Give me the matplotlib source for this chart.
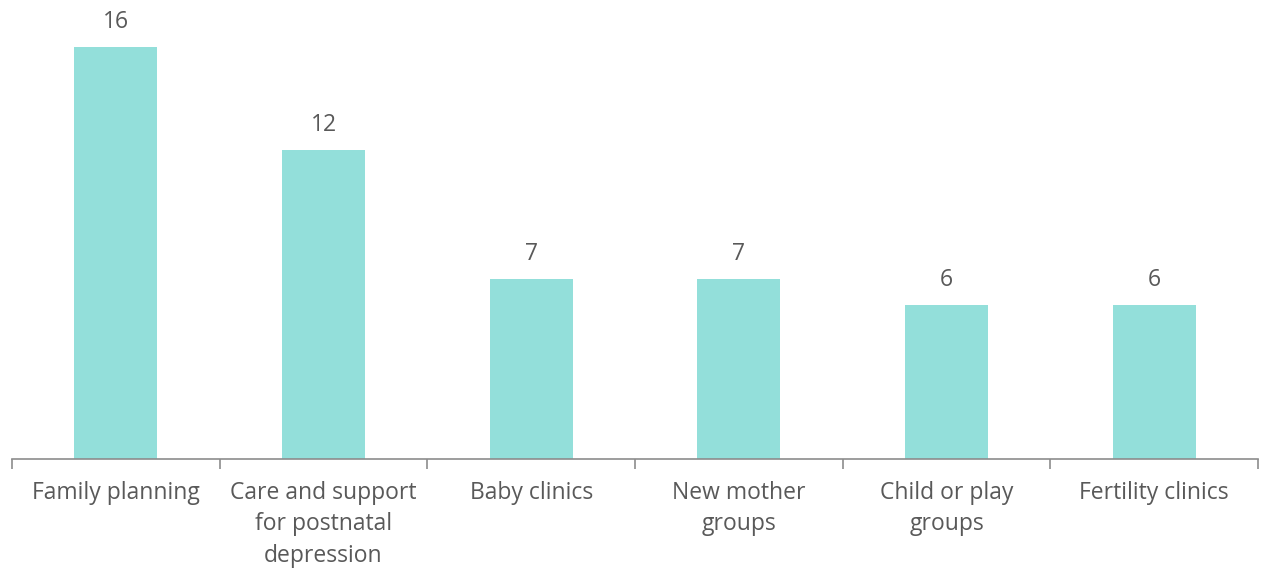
import matplotlib.pyplot as plt
import numpy as np

services = ["Family planning", "Care and support\nfor postnatal\ndepression", "Baby clinics",
            "New mother\ngroups", "Child or play\ngroups", "Fertility clinics"]
counts = [16, 12, 7, 7, 6, 6]

bar_color = "#93DFDA"
text_color = "#595959"
axis_color = "#8C8C8C"

plt.rcParams['font.family'] = ['Open Sans', 'DejaVu Sans']

fig = plt.figure(figsize=(12.64, 5.71), dpi=100)
ax = fig.add_axes([12 / 1264, 112 / 571, 1246 / 1264, 459 / 571])

x = np.arange(len(services))
bars = ax.bar(x, counts, width=0.4, color=bar_color)

for b, v in zip(bars, counts):
    ax.text(b.get_x() + b.get_width() / 2, v + 0.5, str(v), ha="center", va="bottom",
            fontsize=16.5, color=text_color)

ax.set_xlim(-0.5, len(services) - 0.5)
ax.set_ylim(0, 17.83)

# labels on major ticks, boundary marks on minor ticks
ax.set_xticks(x)
ax.set_xticklabels(services, fontsize=16.5, color=text_color, linespacing=1.4, va="top")
ax.tick_params(axis="x", which="major", length=0, pad=16)
ax.set_xticks(np.arange(-0.5, len(services)), minor=True)
ax.tick_params(axis="x", which="minor", length=7, width=1.2, color=axis_color)

ax.set_yticks([])
for side in ["top", "right", "left"]:
    ax.spines[side].set_visible(False)
ax.spines["bottom"].set_color(axis_color)
ax.spines["bottom"].set_linewidth(1.2)

fig.savefig("out.png", dpi=100)
